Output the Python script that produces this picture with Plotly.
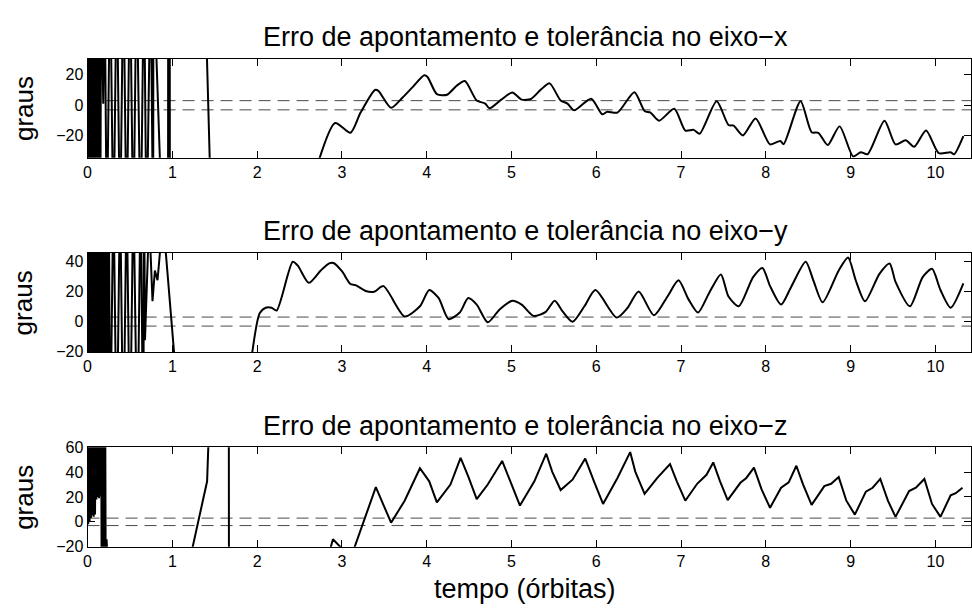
import plotly.graph_objects as go

# ---------------- data ----------------
titles = ["Erro de apontamento e tolerância no eixo\u2212x",
          "Erro de apontamento e tolerância no eixo\u2212y",
          "Erro de apontamento e tolerância no eixo\u2212z"]
y_label = "graus"
x_label = "tempo (órbitas)"
tolerance = 3.0
x_ticks = [0, 1, 2, 3, 4, 5, 6, 7, 8, 9, 10]
y_ticks_x = [-20, 0, 20]
y_ticks_y = [-20, 0, 20, 40]
y_ticks_z = [-20, 0, 20, 40, 60]

# eixo-x error
t_x = [0.000, 0.010, 0.020, 0.030, 0.040, 0.050, 0.060, 0.070, 0.080, 0.090,
       0.100, 0.110, 0.120, 0.130, 0.140, 0.150, 0.160, 0.185, 0.200,
       0.227, 0.266, 0.305, 0.344, 0.383, 0.422, 0.461, 0.500, 0.540, 0.578,
       0.626, 0.665, 0.696, 0.743, 0.774, 0.776, 0.887, 0.949, 0.951, 0.969, 0.971,
       None, 1.379, 1.468, 2.700, 2.920, 3.100, 3.220, 3.390, 3.430, 3.580,
       3.710, 3.840, 3.970, 4.010, 4.120, 4.240, 4.350, 4.450, 4.590, 4.690,
       4.740, 4.880, 5.010, 5.120, 5.230, 5.350, 5.450, 5.580, 5.660, 5.740,
       5.940, 6.070, 6.130, 6.250, 6.450, 6.570, 6.640, 6.740, 6.920, 7.050,
       7.150, 7.220, 7.420, 7.560, 7.620, 7.730, 7.880, 8.050, 8.170, 8.210,
       8.410, 8.540, 8.620, 8.730, 8.870, 9.030, 9.120, 9.200, 9.400, 9.530,
       9.650, 9.750, 9.890, 10.040, 10.180, 10.220, 10.330]
e_x = [90, -90, 90, -90, 90, -90, 90, -90, 90, -90,
       90, -90, 90, -90, 90, -90, 90, 1, 90,
       -90, 90, -90, 90, -90, 90, -90, 90, -90, 90,
       -90, 90, -90, 90, -90, 90, -90, -90, 90, 90, -90,
       None, 90, -90, -41, -11.6, -18.0, -4.8, 10.0, 9.4, -1.7,
       4.7, 12.2, 19.6, 18.5, 7.3, 6.9, 12.6, 15.8, 3.1, 1.1,
       -2.0, 3.7, 8.3, 3.7, 4.1, 10.4, 14.3, 3.1, 1.1, -3.3,
       4.3, -5.9, -4.2, -4.8, 8.5, -3.8, -4.8, -10.1, -2.3, -16.5,
       -16.1, -18.6, 2.6, -12.9, -13.3, -19.7, -8.6, -25.6, -23.3, -25.4,
       2.6, -17.6, -18.0, -26.0, -13.8, -33.5, -30.7, -32.0, -10.1, -25.6,
       -22.9, -27.1, -16.5, -31.3, -30.7, -32.0, -20.1]

# eixo-y error
t_y = [0.0000, 0.0125, 0.0250, 0.0375, 0.0500, 0.0625, 0.0750, 0.0875, 0.1000,
       0.1125, 0.1250, 0.1375, 0.1500, 0.1625, 0.1750, 0.1875, 0.2000, 0.2125,
       0.2250, 0.2375, 0.2500,
       0.266, 0.305, 0.344, 0.383, 0.422, 0.461, 0.500, 0.540, 0.587, 0.626,
       0.657, 0.667, 0.677, 0.715, 0.740, 0.766, 0.794, 0.825, 0.860, 0.900, 1.050,
       1.920, 2.030, 2.100, 2.170, 2.230, 2.420, 2.480, 2.610, 2.750, 2.850,
       2.900, 3.000, 3.100, 3.160, 3.280, 3.380, 3.490, 3.740, 3.920, 4.030,
       4.140, 4.260, 4.390, 4.490, 4.590, 4.720, 4.860, 5.010, 5.120, 5.260,
       5.400, 5.510, 5.600, 5.720, 5.860, 5.990, 6.240, 6.370, 6.500, 6.680,
       6.840, 6.970, 7.090, 7.200, 7.330, 7.470, 7.560, 7.680, 7.850, 7.960,
       8.050, 8.180, 8.300, 8.470, 8.560, 8.670, 8.860, 8.970, 9.060, 9.170,
       9.340, 9.460, 9.530, 9.700, 9.850, 9.960, 10.060, 10.180, 10.330]
e_y = [90, -90, 90, -90, 90, -90, 90, -90, 90,
       -90, 90, -90, 90, -90, 90, -90, 90, -90,
       90, -90, 90,
       -90, 90, -90, 90, -90, 90, -90, 90, -90, 90,
       -90, 90, -12.4, 50, 50, 13.5, 34.0, 27.5, 50, 61.5, -41,
       -30, 5.5, 9.2, 9.2, 7.4, 39.8, 37.2, 25.8, 34.0, 38.7,
       39.0, 33.5, 25.0, 24.3, 20.4, 19.9, 23.6, 3.4, 10.2, 21.0,
       15.7, 1.6, 6.0, 15.7, 11.3, -0.5, 8.1, 13.9, 11.3, 3.8,
       6.3, 13.9, 7.0, -0.1, 10.2, 21.0, 2.7, 9.2, 20.0, 4.2,
       16.7, 27.5, 14.6, 6.0, 18.9, 31.4, 16.7, 10.2, 29.6, 35.7,
       23.6, 11.3, 23.2, 39.8, 27.5, 12.8, 34.0, 42.6, 27.5, 13.5,
       31.8, 38.7, 26.4, 10.2, 29.6, 35.1, 21.0, 9.2, 25.4]

# eixo-z error
t_z = [0.000, 0.008, 0.016, 0.024, 0.032, 0.040, 0.048, 0.056, 0.064, 0.072,
       0.080, 0.088, 0.096, 0.104, 0.112, 0.120, 0.128, 0.136, 0.144, 0.152,
       0.160, 0.168, 0.176, 0.184, 0.192, 0.200, 0.208, 0.216, 0.224, 0.236,
       1.200, 1.240, 1.380, 1.410, 1.425, 1.440, 1.666, 1.668, 2.800, 2.850,
       2.894, 3.050, 3.120, 3.150, 3.400, 3.580, 3.740, 3.920, 4.030, 4.120,
       4.280, 4.400, 4.490, 4.590, 4.720, 4.890, 5.000, 5.100, 5.270, 5.410,
       5.480, 5.580, 5.720, 5.870, 5.980, 6.080, 6.250, 6.400, 6.460, 6.570,
       6.720, 6.870, 6.950, 7.050, 7.190, 7.300, 7.380, 7.460, 7.550, 7.700,
       7.770, 7.860, 7.950, 8.050, 8.180, 8.270, 8.360, 8.440, 8.540, 8.690,
       8.770, 8.860, 8.950, 9.050, 9.180, 9.260, 9.350, 9.440, 9.530, 9.690,
       9.770, 9.870, 9.960, 10.060, 10.180, 10.240, 10.320]
e_z = [90, -2, 90, 0, 90, 3, 90, 5, 90, 4,
       90, 6, 90, 18, 90, 20, 90, 19, 90, 21,
       90, -90, 90, -90, 90, -90, 90, -90, -14, -30,
       -32.4, -20.3, 22.2, 32.6, 62, 90, 90, -90, -90, -25,
       -14, -25, -26, -20.3, 27.9, -0.7, 17.0, 43.1, 32.6, 15.7,
       30.0, 51.4, 36.5, 18.3, 30.0, 49.0, 30.0, 13.1, 32.6, 54.8,
       40.4, 25.6, 33.9, 50.9, 31.4, 14.4, 35.3, 56.1, 40.4, 22.5,
       35.3, 46.4, 32.6, 17.0, 30.6, 37.8, 47.8, 32.6, 17.5, 31.4,
       35.3, 43.6, 26.1, 11.3, 27.4, 31.8, 45.1, 30.0, 13.6, 28.7,
       30.6, 36.0, 17.0, 5.8, 24.3, 27.4, 34.5, 17.0, 4.0, 24.8,
       27.4, 34.5, 14.4, 4.0, 21.4, 23.0, 27.4]

x_range = [0, 10.42]
y_ranges = [[-34.3, 30.5], [-20.4, 45.8], [-20, 60]]
settle_time = 1.9   # after this the error curves are smooth (drawn with spline)

# ---------------- figure ----------------
W, H = 972, 616
FONT = "Liberation Sans, Arial, Helvetica, sans-serif"
fig = go.Figure()

series = [(t_x, e_x), (t_y, e_y), (t_z, e_z)]
smooth = [True, True, False]
yticks = [y_ticks_x, y_ticks_y, y_ticks_z]
boxes = [(52, 154), (251.7, 354), (451.7, 554)]
left_px, right_px = 84, 972

for i, (t, e) in enumerate(series):
    xa = "x" if i == 0 else f"x{i+1}"
    ya = "y" if i == 0 else f"y{i+1}"
    for tol in (tolerance, -tolerance):
        fig.add_trace(go.Scatter(x=x_range, y=[tol, tol], mode="lines",
                                 line=dict(color="#4a4a4a", width=1, dash="12px,7px"),
                                 xaxis=xa, yaxis=ya, showlegend=False, hoverinfo="skip"))
    k = next(j for j, v in enumerate(t) if v is not None and v > settle_time)
    fig.add_trace(go.Scatter(x=t[:k + 1], y=e[:k + 1], mode="lines", connectgaps=False,
                             line=dict(color="black", width=2),
                             xaxis=xa, yaxis=ya, showlegend=False))
    fig.add_trace(go.Scatter(x=t[k:], y=e[k:], mode="lines",
                             line=dict(color="black", width=2,
                                       shape="spline" if smooth[i] else "linear",
                                       smoothing=0.7),
                             xaxis=xa, yaxis=ya, showlegend=False))

layout = dict(width=W, height=H, margin=dict(l=0, r=0, t=0, b=0),
              paper_bgcolor="white", plot_bgcolor="white",
              font=dict(family=FONT, color="black", size=16),
              showlegend=False)
axis_common = dict(showline=True, linecolor="black", linewidth=1, mirror="ticks",
                   ticks="inside", ticklen=7, tickwidth=1, tickcolor="black",
                   showgrid=False, zeroline=False,
                   tickfont=dict(family=FONT, size=16, color="black"))
annotations = []
for i, (top, bot) in enumerate(boxes):
    xk = "xaxis" if i == 0 else f"xaxis{i+1}"
    yk = "yaxis" if i == 0 else f"yaxis{i+1}"
    xa = "x" if i == 0 else f"x{i+1}"
    ya = "y" if i == 0 else f"y{i+1}"
    layout[xk] = dict(axis_common, domain=[left_px / W, right_px / W], range=x_range,
                      tickvals=x_ticks, anchor=ya)
    layout[yk] = dict(axis_common, domain=[1 - bot / H, 1 - top / H], range=y_ranges[i],
                      tickvals=yticks[i], anchor=xa)
    annotations.append(dict(text=titles[i], x=524 / W, y=1 - (top - 22) / H,
                            xref="paper", yref="paper", showarrow=False,
                            xanchor="center", yanchor="middle",
                            font=dict(family=FONT, size=27, color="black")))
    annotations.append(dict(text=y_label, x=20 / W, y=1 - ((top + bot) / 2) / H,
                            xref="paper", yref="paper", showarrow=False, textangle=-90,
                            xanchor="center", yanchor="middle",
                            font=dict(family=FONT, size=26, color="black")))
annotations.append(dict(text=x_label, x=524 / W, y=1 - 598 / H, xref="paper", yref="paper",
                        showarrow=False, xanchor="center", yanchor="middle",
                        font=dict(family=FONT, size=27, color="black")))
layout["annotations"] = annotations
fig.update_layout(**layout)
fig.write_html("out.html")
